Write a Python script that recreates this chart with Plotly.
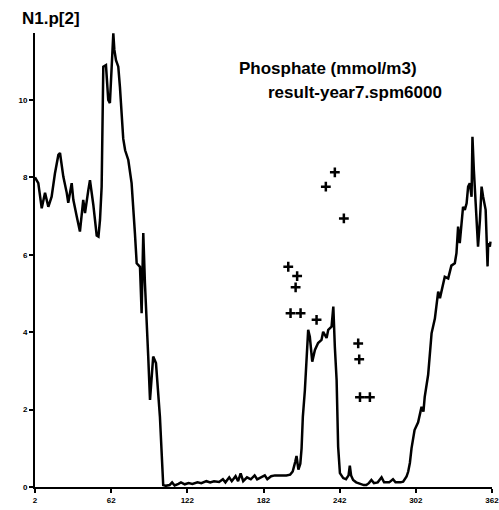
import plotly.graph_objects as go

# Model line (day, phosphate value)
days = [2, 4.6, 7.3, 9.9, 12.5, 15.1, 17.7, 20.4, 21.7, 23, 24.3, 27, 28.2, 30.9, 32.2, 34.8, 37.4, 40, 41.4,
        44, 45.3, 47.9, 50.6, 52, 53.2, 54.5, 55.8, 57.9, 59.7, 61, 62.4, 63.7, 64.5, 65.8, 67.6, 68.9, 71.5,
        73, 75.5, 78.1, 80.7, 82.1, 84.7, 86, 87.3, 88.6, 91.2, 92.6, 95.1, 97.3, 100.4, 103,
        105, 108, 110, 112, 115, 117, 120, 123, 126, 130, 133, 137, 140, 143, 147, 150, 152, 155, 157, 160,
        162, 164, 166, 169, 172, 175, 177, 180, 183, 185, 188, 191, 195, 200, 203, 205, 207, 208, 209.5, 211,
        212, 213, 214.6, 216, 217.2, 218.5, 220.4, 222.5, 225, 227.7, 229, 231.7, 233, 235.6, 237, 238.2,
        239.6, 240.8, 242.2, 244.8, 247, 249, 250, 251, 252.6, 255, 258, 261, 263, 265, 267, 269, 272, 275,
        277, 281, 284, 286, 290, 292, 294.7, 296, 297.3, 298.6, 301, 303.8, 306.5, 308, 309, 311.7, 314.4,
        317, 319.6, 321, 324.8, 327.5, 330, 332.7, 334, 335.3, 336.6, 338, 339.2, 340.6, 342, 343.2, 344.5,
        345.9, 346.6, 347.7, 349.3, 351, 352.5, 353.8, 355, 357, 358.5, 359, 360.3, 360.8]
values = [8.0, 7.85, 7.2, 7.6, 7.24, 7.5, 8.1, 8.58, 8.63, 8.37, 8.02, 7.6, 7.34, 7.85, 7.42, 7.0, 6.6, 7.42, 7.08,
          7.67, 7.93, 7.3, 6.5, 6.47, 6.9, 7.76, 10.86, 10.9, 10.0, 9.92, 11.03, 11.72, 11.3, 11.03, 10.86, 10.34, 9.0,
          8.7, 8.45, 7.85, 6.56, 5.78, 5.69, 4.49, 6.56, 5.27, 3.37, 2.25, 3.37, 3.2, 1.82, 0.05,
          0.03, 0.05, 0.12, 0.04, 0.08, 0.12, 0.07, 0.1, 0.08, 0.12, 0.1, 0.15, 0.12, 0.15, 0.13, 0.2, 0.12, 0.25, 0.15, 0.28,
          0.15, 0.35, 0.15, 0.25, 0.2, 0.3, 0.2, 0.25, 0.3, 0.2, 0.28, 0.3, 0.3, 0.3, 0.32, 0.4, 0.65, 0.8, 0.45, 0.6,
          1.0, 1.82, 2.5, 3.2, 4.06, 3.88, 3.24, 3.54, 3.72, 3.8, 4.01, 3.85, 4.06, 4.14, 4.66, 3.62,
          2.76, 1.04, 0.36, 0.23, 0.2, 0.3, 0.55, 0.3, 0.18, 0.12, 0.08, 0.05, 0.05, 0.1, 0.18, 0.1, 0.12, 0.25,
          0.12, 0.12, 0.2, 0.12, 0.12, 0.14, 0.27, 0.4, 0.62, 1.0, 1.47, 1.67, 2.07, 1.95, 2.33, 2.9, 3.97,
          4.35, 5.05, 4.88, 5.43, 5.39, 5.72, 5.78, 6.04, 6.73, 6.3, 6.9, 7.24, 7.16, 7.33, 7.76, 7.85,
          7.5, 9.05, 8.19, 7.07, 6.21, 6.9, 7.76, 7.5, 7.16, 5.7, 6.3, 6.21, 6.34]

# Observations (+ markers)
obs_days = [201.5, 208.5, 207.3, 203.3, 211.2, 223.8, 231.1, 238.2, 245.3, 256.6, 257.4, 258.0, 265.8]
obs_values = [5.69, 5.45, 5.16, 4.49, 4.49, 4.32, 7.76, 8.13, 6.94, 3.71, 3.3, 2.32, 2.32]

x_ticks = [2, 62, 122, 182, 242, 302, 362]
y_ticks = [0, 2, 4, 6, 8, 10]

title_var = "N1.p[2]"
title_main = "Phosphate (mmol/m3)"
title_run = "result-year7.spm6000"

fig = go.Figure()
fig.add_trace(go.Scatter(x=days, y=values, mode="lines",
                         line=dict(color="black", width=2.5), showlegend=False))
fig.add_trace(go.Scatter(x=obs_days, y=obs_values, mode="markers",
                         marker=dict(symbol="cross-thin", size=7, color="black",
                                     line=dict(color="black", width=2.5)),
                         showlegend=False))

L, R, T, B = 35, 7, 33, 23
W, H = 499, 510
pw, ph = W - L - R, H - T - B

def px(xp):
    return (xp - L) / pw

def py(yp):
    return (H - B - yp) / ph

axis_common = dict(showgrid=False, zeroline=False, showline=True, linecolor="black", linewidth=2,
                   ticks="outside", ticklen=4, tickwidth=2, tickcolor="black",
                   ticklabeloverflow="allow", automargin=False,
                   tickfont=dict(size=8, weight="bold", family="Liberation Sans, Arial"))

fig.update_layout(
    width=W, height=H,
    margin=dict(l=L, r=R, t=T, b=B, pad=0, autoexpand=False),
    paper_bgcolor="white", plot_bgcolor="white",
    font=dict(family="Liberation Sans, Arial, sans-serif", color="black"),
    xaxis=dict(range=[2, 362], tickvals=x_ticks, ticktext=[str(v) for v in x_ticks], **axis_common),
    yaxis=dict(range=[0, 11.73], tickvals=y_ticks, ticktext=[str(v) for v in y_ticks], **axis_common),
    annotations=[
        dict(text=title_var, xref="paper", yref="paper", x=px(20), y=py(18),
             xanchor="left", yanchor="middle", showarrow=False,
             font=dict(size=17, weight="bold")),
        dict(text=title_main, xref="paper", yref="paper", x=px(237), y=py(69),
             xanchor="left", yanchor="middle", showarrow=False,
             font=dict(size=17, weight="bold")),
        dict(text=title_run, xref="paper", yref="paper", x=px(266), y=py(92),
             xanchor="left", yanchor="middle", showarrow=False,
             font=dict(size=17, weight="bold")),
    ],
)

fig.write_html("out.html")
